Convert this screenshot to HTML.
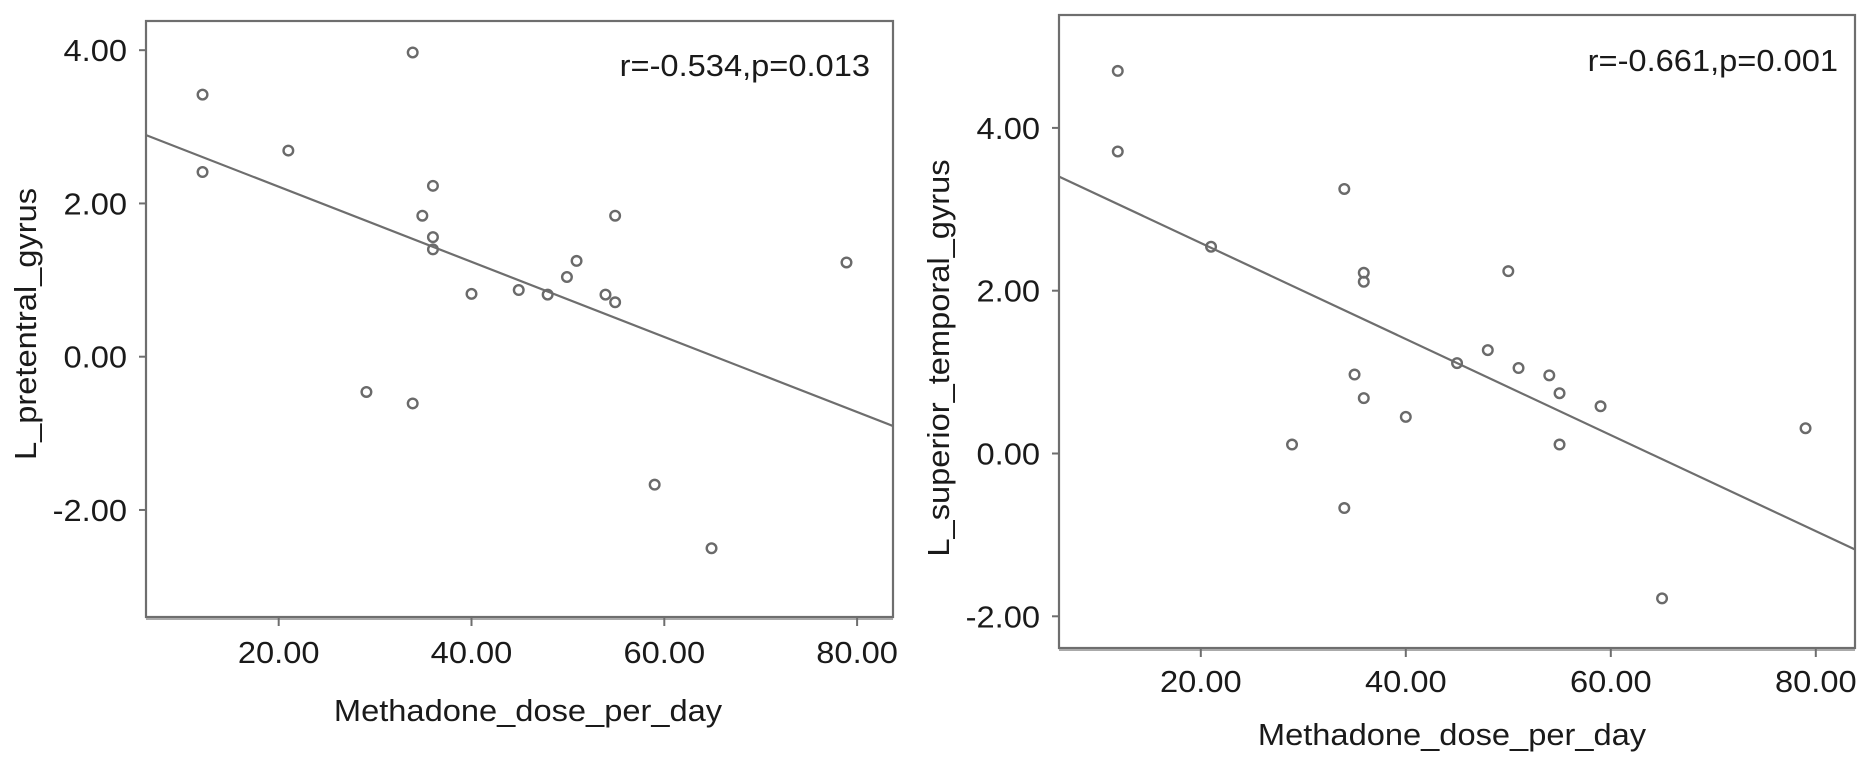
<!DOCTYPE html>
<html><head><meta charset="utf-8"><style>
html,body{margin:0;padding:0;background:#fff;}
svg{display:block;font-family:"Liberation Sans",Arial,sans-serif;}
</style></head><body>
<svg id="fig" width="1871" height="765" viewBox="0 0 1871 765" xmlns="http://www.w3.org/2000/svg"></svg>
<script>
// ---- Left chart data ----
const leftDose = [33.9,12.1,21.0,12.1,36.0,34.9,36.0,36.0,40.0,44.9,47.9,49.9,50.9,53.9,54.9,54.9,29.1,33.9,59.0,64.9,78.9];
const leftValue = [3.97,3.42,2.69,2.41,2.23,1.84,1.56,1.40,0.82,0.87,0.81,1.04,1.25,0.81,0.71,1.84,-0.46,-0.61,-1.67,-2.50,1.23];
const leftFit = [3.198,-0.0490]; // intercept, slope
const leftYTicks = [4,2,0,-2];
const leftYTickLabels = ["4.00","2.00","0.00","-2.00"];
// ---- Right chart data ----
const rightDose = [11.9,11.9,34.0,21.0,35.9,35.9,50.0,48.0,45.0,51.0,54.0,55.0,59.0,35.0,35.9,40.0,28.9,55.0,79.0,34.0,65.0];
const rightValue = [4.70,3.71,3.25,2.54,2.22,2.11,2.24,1.27,1.11,1.05,0.96,0.74,0.58,0.97,0.68,0.45,0.11,0.11,0.31,-0.67,-1.78];
const rightFit = [3.766,-0.0590];
const rightYTicks = [4,2,0,-2];
const rightYTickLabels = ["4.00","2.00","0.00","-2.00"];
// ---- shared ----
const xTicks = [20,40,60,80];
const xTickLabels = ["20.00","40.00","60.00","80.00"];

const NS="http://www.w3.org/2000/svg";
const svg=document.getElementById('fig');
const SX=1.07, FS=30.5, GRAY="#6e6e6e";
function mk(tag,attrs,parent){const e=document.createElementNS(NS,tag);for(const k in attrs)e.setAttribute(k,attrs[k]);(parent||svg).appendChild(e);return e;}
function txt(parent,x,y,s,anchor,rot){
  const e=mk('text',{transform:`translate(${x},${y}) rotate(${rot||0}) scale(${SX},1)`,'text-anchor':anchor,'font-size':FS,fill:'#1a1a1a'},parent);
  e.textContent=s;return e;
}

function chart(cfg){
  const g=mk('g',{});
  
  
  const X=v=>cfg.x20+(v-20)*cfg.xPer;
  const Y=v=>cfg.y0-v*cfg.yPer;
  const fr=mk('rect',{x:cfg.L,y:cfg.T,width:cfg.R-cfg.L,height:cfg.B-cfg.T,fill:'#fff',stroke:GRAY,'stroke-width':2.2},g);
  
  
  const sh=mk('line',{x1:cfg.L,x2:cfg.R,y1:cfg.B+2,y2:cfg.B+2,stroke:'#aaa','stroke-width':2},g);
  
  
  cfg.yTicks.forEach((t,i)=>{
    const y=Y(t);
    const tk=mk('line',{x1:cfg.L-7,x2:cfg.L,y1:y,y2:y,stroke:GRAY,'stroke-width':2},g);
    
    
    const lb=txt(g,cfg.L-19,y+cfg.yLabOff,cfg.yTickLabels[i],'end');
    
    
  });
  xTicks.forEach((t,i)=>{
    const x=X(t);
    const tk=mk('line',{x1:x,x2:x,y1:cfg.B,y2:cfg.B+9,stroke:GRAY,'stroke-width':2},g);
    
    
    const lb=txt(g,x,cfg.xLabBase,xTickLabels[i],'middle');
    
    
  });
  const xa=cfg.xMin, xb=cfg.xMax;
  const ln=mk('line',{x1:X(xa),y1:Y(cfg.fit[0]+cfg.fit[1]*xa),x2:X(xb),y2:Y(cfg.fit[0]+cfg.fit[1]*xb),stroke:GRAY,'stroke-width':2.2},g);
  
  
  cfg.xs.forEach((d,i)=>{
    const c=mk('circle',{cx:X(d),cy:Y(cfg.ys[i]),r:4.8,fill:'none',stroke:'#6a6a6a','stroke-width':2.4},g);
    
    
  });
  const an=txt(g,cfg.R-cfg.annGap,cfg.annBase,cfg.ann,'end');
  
  
  const xt=txt(g,cfg.xTitleX,cfg.xTitleBase,'Methadone_dose_per_day','middle');
  
  
  const yt=txt(g,cfg.yTitleX,cfg.yTitleY,cfg.yTitle,'middle',-90);
  
  
}

chart({name:'left-chart',L:146,R:893,T:21,B:617,x20:278.7,xPer:9.64,y0:356.7,yPer:76.63,
  xMin:6.28,xMax:83.7,xs:leftDose,ys:leftValue,fit:leftFit,yTicks:leftYTicks,yTickLabels:leftYTickLabels,
  yLabOff:11,xLabBase:663,ann:'r=-0.534,p=0.013',annGap:23,annBase:76,
  xTitleX:528,xTitleBase:721,yTitleX:36,yTitleY:324,yTitle:'L_pretentral_gyrus'});
chart({name:'right-chart',L:1059,R:1855,T:15,B:648,x20:1200.8,xPer:10.25,y0:453.5,yPer:81.4,
  xMin:6.2,xMax:83.8,xs:rightDose,ys:rightValue,fit:rightFit,yTicks:rightYTicks,yTickLabels:rightYTickLabels,
  yLabOff:11,xLabBase:692,ann:'r=-0.661,p=0.001',annGap:17,annBase:71,
  xTitleX:1452,xTitleBase:745,yTitleX:949,yTitleY:358,yTitle:'L_superior_temporal_gyrus'});
</script>
</body></html>
